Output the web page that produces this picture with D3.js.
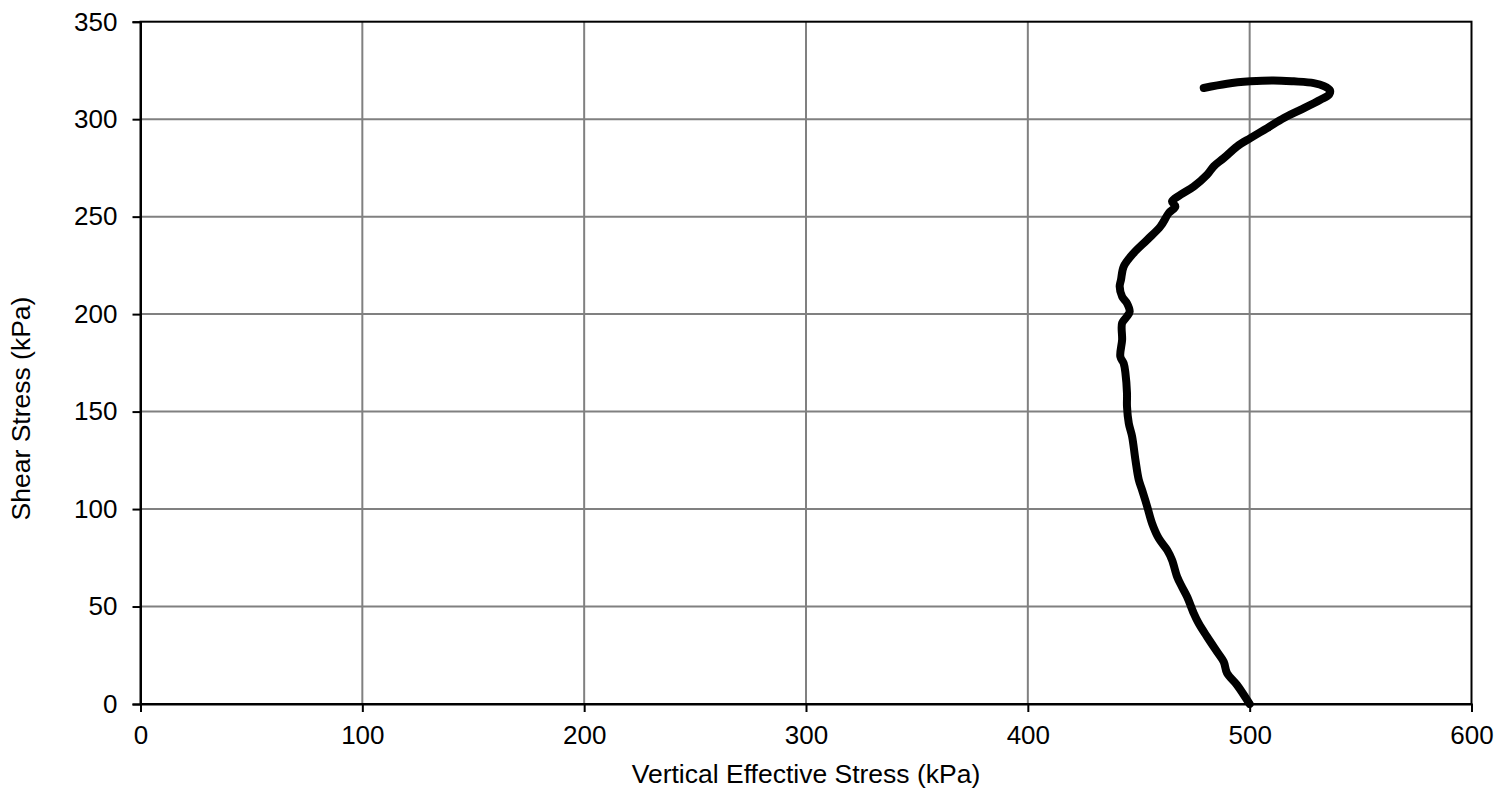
<!DOCTYPE html>
<html><head><meta charset="utf-8">
<script src="https://cdn.jsdelivr.net/npm/d3@7"></script>
<style>
html,body{margin:0;padding:0;background:#fff;}
text{font-family:"Liberation Sans",Arial,sans-serif;fill:#000;}
</style></head>
<body><svg id="c" width="1504" height="791"></svg>
<script>
const xTicks = [0,100,200,300,400,500,600];
const yTicks = [0,50,100,150,200,250,300,350];
const xTitle = "Vertical Effective Stress (kPa)";
const yTitle = "Shear Stress (kPa)";
const sigma = [500,494.3,489.8,488.3,485.3,480.8,477,474.8,471.8,469.5,467.3,465,462.8,459,456,453.8,451.5,450,448.5,447,445.5,444.7,444.7,444,443.2,441.7,442.5,442.5,444.7,445.9,444.7,442.5,441.4,442,443.2,447.7,453.8,459.8,463.5,466.5,465,468.8,474.8,480.8,483.8,488.3,494.3,500.3,507.9,515.4,522.9,531.9,535.8,536.2,533.5,528.9,519.9,510.8,500.3,489.8,479.3];
const tau = [0,9.75,15.8,21.7,26.8,34.5,41.4,46.5,55,60,65.3,73.9,79,85,92.7,101.3,109.8,115,125.2,137.2,144,152.6,159.4,169.7,174.8,178.2,186.8,195.4,198.8,201.3,205.6,209,214.2,217.6,224.4,231.3,238.1,245,251.8,255.2,257.8,261.2,265.5,271.5,275.8,280,286,290.3,295.4,300.6,304.8,310,312.6,314.8,317,318.5,319.4,319.9,319.4,318.2,316];

const L=140.5,R=1471.5,T=21.7,B=704;
const svg=d3.select("#c");
const x=d3.scaleLinear().domain([0,600]).range([L,R]);
const y=d3.scaleLinear().domain([0,350]).range([B,T]);

svg.append("g").selectAll("line").data(xTicks.slice(1,-1)).join("line")
 .attr("x1",d=>x(d)).attr("x2",d=>x(d)).attr("y1",T).attr("y2",B)
 .attr("stroke","#808080").attr("stroke-width",2);
svg.append("g").selectAll("line").data(yTicks.slice(1,-1)).join("line")
 .attr("y1",d=>y(d)).attr("y2",d=>y(d)).attr("x1",L).attr("x2",R)
 .attr("stroke","#808080").attr("stroke-width",2);

svg.append("rect").attr("x",L).attr("y",T).attr("width",R-L).attr("height",B-T)
 .attr("fill","none").attr("stroke","#000").attr("stroke-width",2);

const xAxis=svg.append("g").attr("transform",`translate(0,${B})`)
 .call(d3.axisBottom(x).tickValues(xTicks).tickSize(8).tickPadding(14).tickFormat(d3.format("d")));
const yAxis=svg.append("g").attr("transform",`translate(${L},0)`)
 .call(d3.axisLeft(y).tickValues(yTicks).tickSize(8).tickPadding(15).tickFormat(d3.format("d")));
[xAxis,yAxis].forEach(a=>{
  a.select(".domain").attr("stroke","#000").attr("stroke-width",2);
  a.selectAll(".tick line").attr("stroke","#000").attr("stroke-width",2);
  a.selectAll("text").attr("font-size",26).attr("font-family","Liberation Sans, Arial, sans-serif").attr("fill","#000");
});

const pts=sigma.map((s,i)=>[s,tau[i]]);
svg.append("path").datum(pts)
 .attr("d",d3.line().x(d=>x(d[0])).y(d=>y(d[1])).curve(d3.curveCatmullRom.alpha(0.5)))
 .attr("fill","none").attr("stroke","#000").attr("stroke-width",8)
 .attr("stroke-linejoin","round").attr("stroke-linecap","round");

svg.append("text").attr("x",(L+R)/2).attr("y",783).attr("text-anchor","middle")
 .attr("font-size",26.5).text(xTitle);
svg.append("text").attr("transform","translate(30,408.5) rotate(-90)").attr("text-anchor","middle")
 .attr("font-size",26.5).text(yTitle);
</script></body></html>
